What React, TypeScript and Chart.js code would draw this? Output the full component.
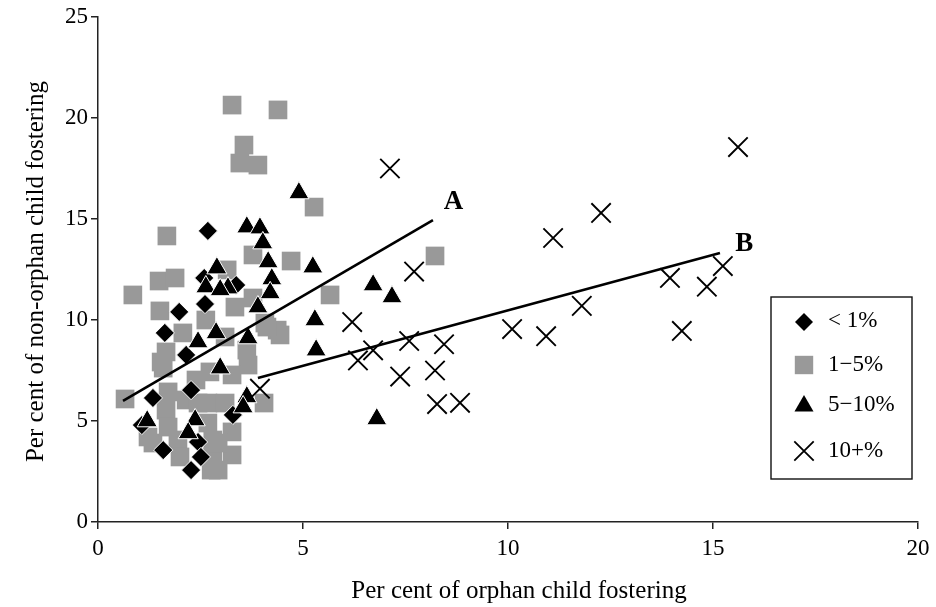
import React, { useEffect, useRef } from 'react';
import { Chart, registerables } from 'chart.js';

Chart.register(...registerables);

// ---------- data ----------
const xTitle = 'Per cent of orphan child fostering';
const yTitle = 'Per cent of non-orphan child fostering';
const seriesLabels = ['< 1%', '1\u22125%', '5\u221210%', '10+%'];

// < 1% (diamonds)
const under1: [number, number][] = [
  [2.68, 14.41], [2.59, 12.08], [3.37, 11.73], [2.61, 10.79], [1.98, 10.4],
  [1.63, 9.36], [2.15, 8.27], [2.27, 6.53], [1.34, 6.14], [1.07, 4.8],
  [1.59, 3.56], [2.44, 3.96], [2.51, 3.22], [2.27, 2.57], [3.29, 5.3],
];

// 1-5% (grey squares)
const from1to5: [number, number][] = [
  [3.27, 20.64], [4.39, 20.4], [3.56, 18.66], [3.46, 17.77], [3.9, 17.67],
  [5.27, 15.59], [1.68, 14.16], [3.78, 13.22], [4.71, 12.92], [3.15, 12.48],
  [1.49, 11.93], [1.88, 12.08], [0.85, 11.24], [5.66, 11.24], [8.22, 13.17],
  [1.51, 10.45], [2.63, 10.0], [2.07, 9.36], [1.66, 8.42], [1.54, 7.92],
  [3.34, 10.64], [3.78, 11.09], [4.07, 9.85], [4.37, 9.5], [3.1, 9.16],
  [3.63, 8.51], [3.66, 7.77], [0.66, 6.09], [1.59, 7.62], [1.22, 4.21],
  [1.34, 3.91], [1.71, 6.44], [1.66, 5.54], [1.71, 4.7], [1.95, 4.06],
  [2.0, 3.22], [2.15, 6.04], [2.44, 5.89], [2.68, 5.89], [2.68, 4.9],
  [2.8, 4.06], [2.8, 3.22], [2.76, 2.57], [3.27, 7.28], [4.05, 5.89],
  [3.1, 5.89], [3.27, 4.46], [3.27, 3.32], [2.93, 2.57], [2.93, 3.91],
  [4.44, 9.26], [4.12, 9.65], [2.39, 7.03], [2.73, 7.43],
];

// 5-10% (triangles)
const from5to10: [number, number][] = [
  [4.9, 16.29], [3.63, 14.6], [3.95, 14.55], [4.02, 13.81], [4.15, 12.87],
  [5.24, 12.62], [2.9, 12.57], [4.24, 12.03], [3.17, 11.58], [2.63, 11.63],
  [2.98, 11.49], [4.2, 11.34], [3.9, 10.64], [5.29, 10.0], [3.66, 9.11],
  [2.88, 9.36], [2.44, 8.91], [5.32, 8.51], [6.71, 11.73], [7.17, 11.14],
  [6.8, 5.1], [2.98, 7.62], [3.63, 6.19], [3.54, 5.69], [2.37, 5.05],
  [2.2, 4.41], [1.2, 5.0],
];

// 10+% (crosses)
const over10: [number, number][] = [
  [7.12, 17.5], [7.71, 12.4], [6.2, 9.9], [6.34, 8.0], [6.71, 8.5],
  [7.59, 8.96], [8.44, 8.8], [7.37, 7.2], [8.22, 7.5], [8.27, 5.84],
  [8.83, 5.9], [10.1, 9.55], [10.93, 9.2], [11.8, 10.7], [11.1, 14.06],
  [12.27, 15.3], [15.61, 18.56], [15.24, 12.67], [13.95, 12.08], [14.85, 11.65],
  [14.24, 9.46], [3.95, 6.6],
];

// trend lines
const lineA: [number, number][] = [[0.61, 6.0], [8.17, 14.95]];
const lineB: [number, number][] = [[3.9, 7.13], [15.17, 13.32]];
const lineLabelText = ['A', 'B'];
const lineLabelX = [8.67, 15.76];
const lineLabelY = [15.82, 13.76];

// ---------- chart ----------
const FONT = '"Liberation Serif", "Times New Roman", serif';

function drawMarker(ctx: CanvasRenderingContext2D, kind: string, x: number, y: number) {
  ctx.save();
  ctx.beginPath();
  if (kind === 'diamond') {
    const r = 9;
    ctx.moveTo(x - r, y); ctx.lineTo(x, y - r); ctx.lineTo(x + r, y); ctx.lineTo(x, y + r);
    ctx.closePath();
    ctx.fillStyle = '#000'; ctx.fill();
  } else if (kind === 'square') {
    ctx.fillStyle = '#999999';
    ctx.fillRect(x - 9.2, y - 9.2, 18.4, 18.4);
  } else if (kind === 'triangle') {
    const r = 11;
    ctx.moveTo(x, y - r);
    ctx.lineTo(x + r * Math.sin(2 * Math.PI / 3), y + r / 2);
    ctx.lineTo(x - r * Math.sin(2 * Math.PI / 3), y + r / 2);
    ctx.closePath();
    ctx.fillStyle = '#000'; ctx.fill();
  } else {
    const h = 9.7;
    ctx.moveTo(x - h, y - h); ctx.lineTo(x + h, y + h);
    ctx.moveTo(x + h, y - h); ctx.lineTo(x - h, y + h);
    ctx.strokeStyle = '#000'; ctx.lineWidth = 1.8; ctx.stroke();
  }
  ctx.restore();
}

const overlayPlugin = {
  id: 'overlay',
  afterDraw(chart: any) {
    const ctx: CanvasRenderingContext2D = chart.ctx;
    const xs = chart.scales.x;
    const ys = chart.scales.y;
    const area = chart.chartArea;
    ctx.save();
    ctx.fillStyle = '#000';

    // line labels A / B
    ctx.font = `bold 27px ${FONT}`;
    ctx.textAlign = 'center';
    ctx.textBaseline = 'middle';
    lineLabelText.forEach((t, i) => {
      ctx.fillText(t, xs.getPixelForValue(lineLabelX[i]), ys.getPixelForValue(lineLabelY[i]));
    });

    // axis titles
    ctx.font = `25px ${FONT}`;
    ctx.textBaseline = 'alphabetic';
    ctx.textAlign = 'center';
    ctx.fillText(xTitle, (area.left + area.right) / 2 + 11, chart.height - 9);
    ctx.save();
    ctx.translate(43, (area.top + area.bottom) / 2 + 2);
    ctx.rotate(-Math.PI / 2);
    ctx.fillText(yTitle, 0, 0);
    ctx.restore();

    // legend box
    const bx = 771, by = 297, bw = 141, bh = 182;
    ctx.fillStyle = '#fff';
    ctx.fillRect(bx, by, bw, bh);
    ctx.strokeStyle = '#111';
    ctx.lineWidth = 1.4;
    ctx.strokeRect(bx, by, bw, bh);

    const kinds = ['diamond', 'square', 'triangle', 'cross'];
    const markerY = [322, 365, 406, 451];
    const textY = [321, 365, 404.5, 450.5];
    ctx.font = `23px ${FONT}`;
    ctx.textAlign = 'left';
    ctx.textBaseline = 'middle';
    kinds.forEach((k, i) => {
      drawMarker(ctx, k, 804, markerY[i]);
      ctx.fillStyle = '#000';
      ctx.fillText(seriesLabels[i], 828, textY[i]);
    });
    ctx.restore();
  },
};

const toPts = (a: [number, number][]) => a.map(([x, y]) => ({ x, y }));

export default function App() {
  const ref = useRef<HTMLCanvasElement>(null);

  useEffect(() => {
    if (!ref.current) return;
    const tickFont = { family: FONT, size: 23 };
    const chart = new Chart(ref.current, {
      type: 'scatter',
      data: {
        datasets: [
          {
            label: 'A', data: toPts(lineA), showLine: true, borderColor: '#000',
            borderWidth: 2.6, pointRadius: 0, order: 0,
          } as any,
          {
            label: 'B', data: toPts(lineB), showLine: true, borderColor: '#000',
            borderWidth: 2.6, pointRadius: 0, order: 0,
          } as any,
          {
            label: seriesLabels[3], data: toPts(over10), pointStyle: 'crossRot',
            pointRadius: 13.7, borderColor: '#000', backgroundColor: '#000', borderWidth: 1.9, order: 1,
          },
          {
            label: seriesLabels[2], data: toPts(from5to10), pointStyle: 'triangle',
            pointRadius: 11.6, backgroundColor: '#000', borderColor: '#fff', borderWidth: 1, order: 2,
          },
          {
            label: seriesLabels[0], data: toPts(under1), pointStyle: 'rectRot',
            pointRadius: 9.6, backgroundColor: '#000', borderColor: '#fff', borderWidth: 1, order: 3,
          },
          {
            label: seriesLabels[1], data: toPts(from1to5), pointStyle: 'rect',
            pointRadius: 13.2, backgroundColor: '#999999', borderColor: '#999999', borderWidth: 0, order: 4,
          },
        ],
      },
      options: {
        responsive: false,
        animation: false,
        events: [],
        layout: { padding: { top: 17, right: 18, bottom: 0, left: 0 } },
        plugins: { legend: { display: false }, tooltip: { enabled: false }, title: { display: false } },
        scales: {
          x: {
            type: 'linear', min: 0, max: 20,
            ticks: { stepSize: 5, font: tickFont, color: '#000', padding: 6, maxRotation: 0 },
            grid: { drawOnChartArea: false, drawTicks: true, tickLength: 7, color: '#222', lineWidth: 1.5 },
            border: { display: true, color: '#222', width: 1.5 },
            afterFit: (s: any) => { s.height = 85; s.paddingLeft = 0; s.paddingRight = 0; },
          },
          y: {
            type: 'linear', min: 0, max: 25,
            ticks: { stepSize: 5, font: tickFont, color: '#000', padding: 3 },
            grid: { drawOnChartArea: false, drawTicks: true, tickLength: 7, color: '#222', lineWidth: 1.5 },
            border: { display: true, color: '#222', width: 1.5 },
            afterFit: (s: any) => { s.width = 98; s.paddingTop = 0; s.paddingBottom = 0; },
          },
        },
      },
      plugins: [overlayPlugin],
    });
    return () => chart.destroy();
  }, []);

  return (
    <div style={{ position: 'absolute', left: 0, top: 0, width: 936, height: 607, background: '#fff' }}>
      <canvas ref={ref} width={936} height={607} style={{ display: 'block' }} />
    </div>
  );
}
